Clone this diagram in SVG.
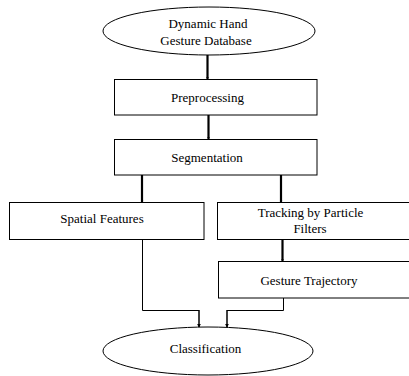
<svg xmlns="http://www.w3.org/2000/svg" width="409" height="376" viewBox="0 0 409 376">
<defs>
<style>
.n{fill:#fff;stroke:#000;stroke-width:1}
.t{font-size:13px;fill:#000;text-anchor:middle}
.c{fill:none;stroke:#000}
.thick{stroke-width:2.2}
.thin{stroke-width:1}
</style>
<marker id="ah" viewBox="0 0 6 6" refX="5" refY="3" markerWidth="3" markerHeight="3" orient="auto" markerUnits="userSpaceOnUse">
<path d="M0,0 L6,3 L0,6 z" fill="#000"/>
</marker>
<marker id="ah2" viewBox="0 0 6 6" refX="5" refY="3" markerWidth="4" markerHeight="5" orient="auto" markerUnits="userSpaceOnUse">
<path d="M0,0 L6,3 L0,6 z" fill="#000"/>
</marker>
</defs>
<rect width="409" height="376" fill="#fff"/>
<g id="connectors">
<path class="c thick" d="M207.5,55 V79" marker-end="url(#ah)"/>
<path class="c thick" d="M208.5,115 V139" marker-end="url(#ah)"/>
<path class="c thick" d="M142,175 V202" marker-end="url(#ah)"/>
<path class="c thick" d="M281,175 V202" marker-end="url(#ah)"/>
<path class="c thick" d="M282.5,239.5 V261" marker-end="url(#ah)"/>
<path class="c thin" d="M142.5,239.5 V310.5 H199"/>
<path class="c" stroke-width="1.5" d="M199,310 V327" marker-end="url(#ah2)"/>
<path class="c thin" d="M283.5,298 V310.5 H227"/>
<path class="c" stroke-width="1.5" d="M227,310 V327" marker-end="url(#ah2)"/>
</g>
<g font-family="'Liberation Serif', 'Times New Roman', 'DejaVu Serif', serif">
<g id="database">
<ellipse class="n" cx="209" cy="31" rx="106" ry="24"/>
<text class="t" x="208" y="28">Dynamic Hand</text>
<text class="t" x="206" y="45">Gesture Database</text>
</g>
<g id="preprocessing">
<rect class="n" x="114.5" y="79.5" width="202.5" height="35.5"/>
<text class="t" x="207.5" y="102">Preprocessing</text>
</g>
<g id="segmentation">
<rect class="n" x="114.5" y="139.5" width="202.5" height="35.5"/>
<text class="t" x="207" y="162">Segmentation</text>
</g>
<g id="spatial">
<rect class="n" x="9.5" y="202.5" width="194.5" height="37"/>
<text class="t" x="102" y="223">Spatial Features</text>
</g>
<g id="tracking">
<rect class="n" x="217.5" y="202.5" width="200" height="37"/>
<text class="t" x="310.5" y="217">Tracking by Particle</text>
<text class="t" x="310" y="233">Filters</text>
</g>
<g id="trajectory">
<rect class="n" x="218.5" y="261.5" width="200" height="36.5"/>
<text class="t" x="309" y="285">Gesture Trajectory</text>
</g>
<g id="classification">
<ellipse class="n" cx="208" cy="351" rx="105" ry="24"/>
<text class="t" x="205.5" y="353">Classification</text>
</g>
</g>
</svg>
